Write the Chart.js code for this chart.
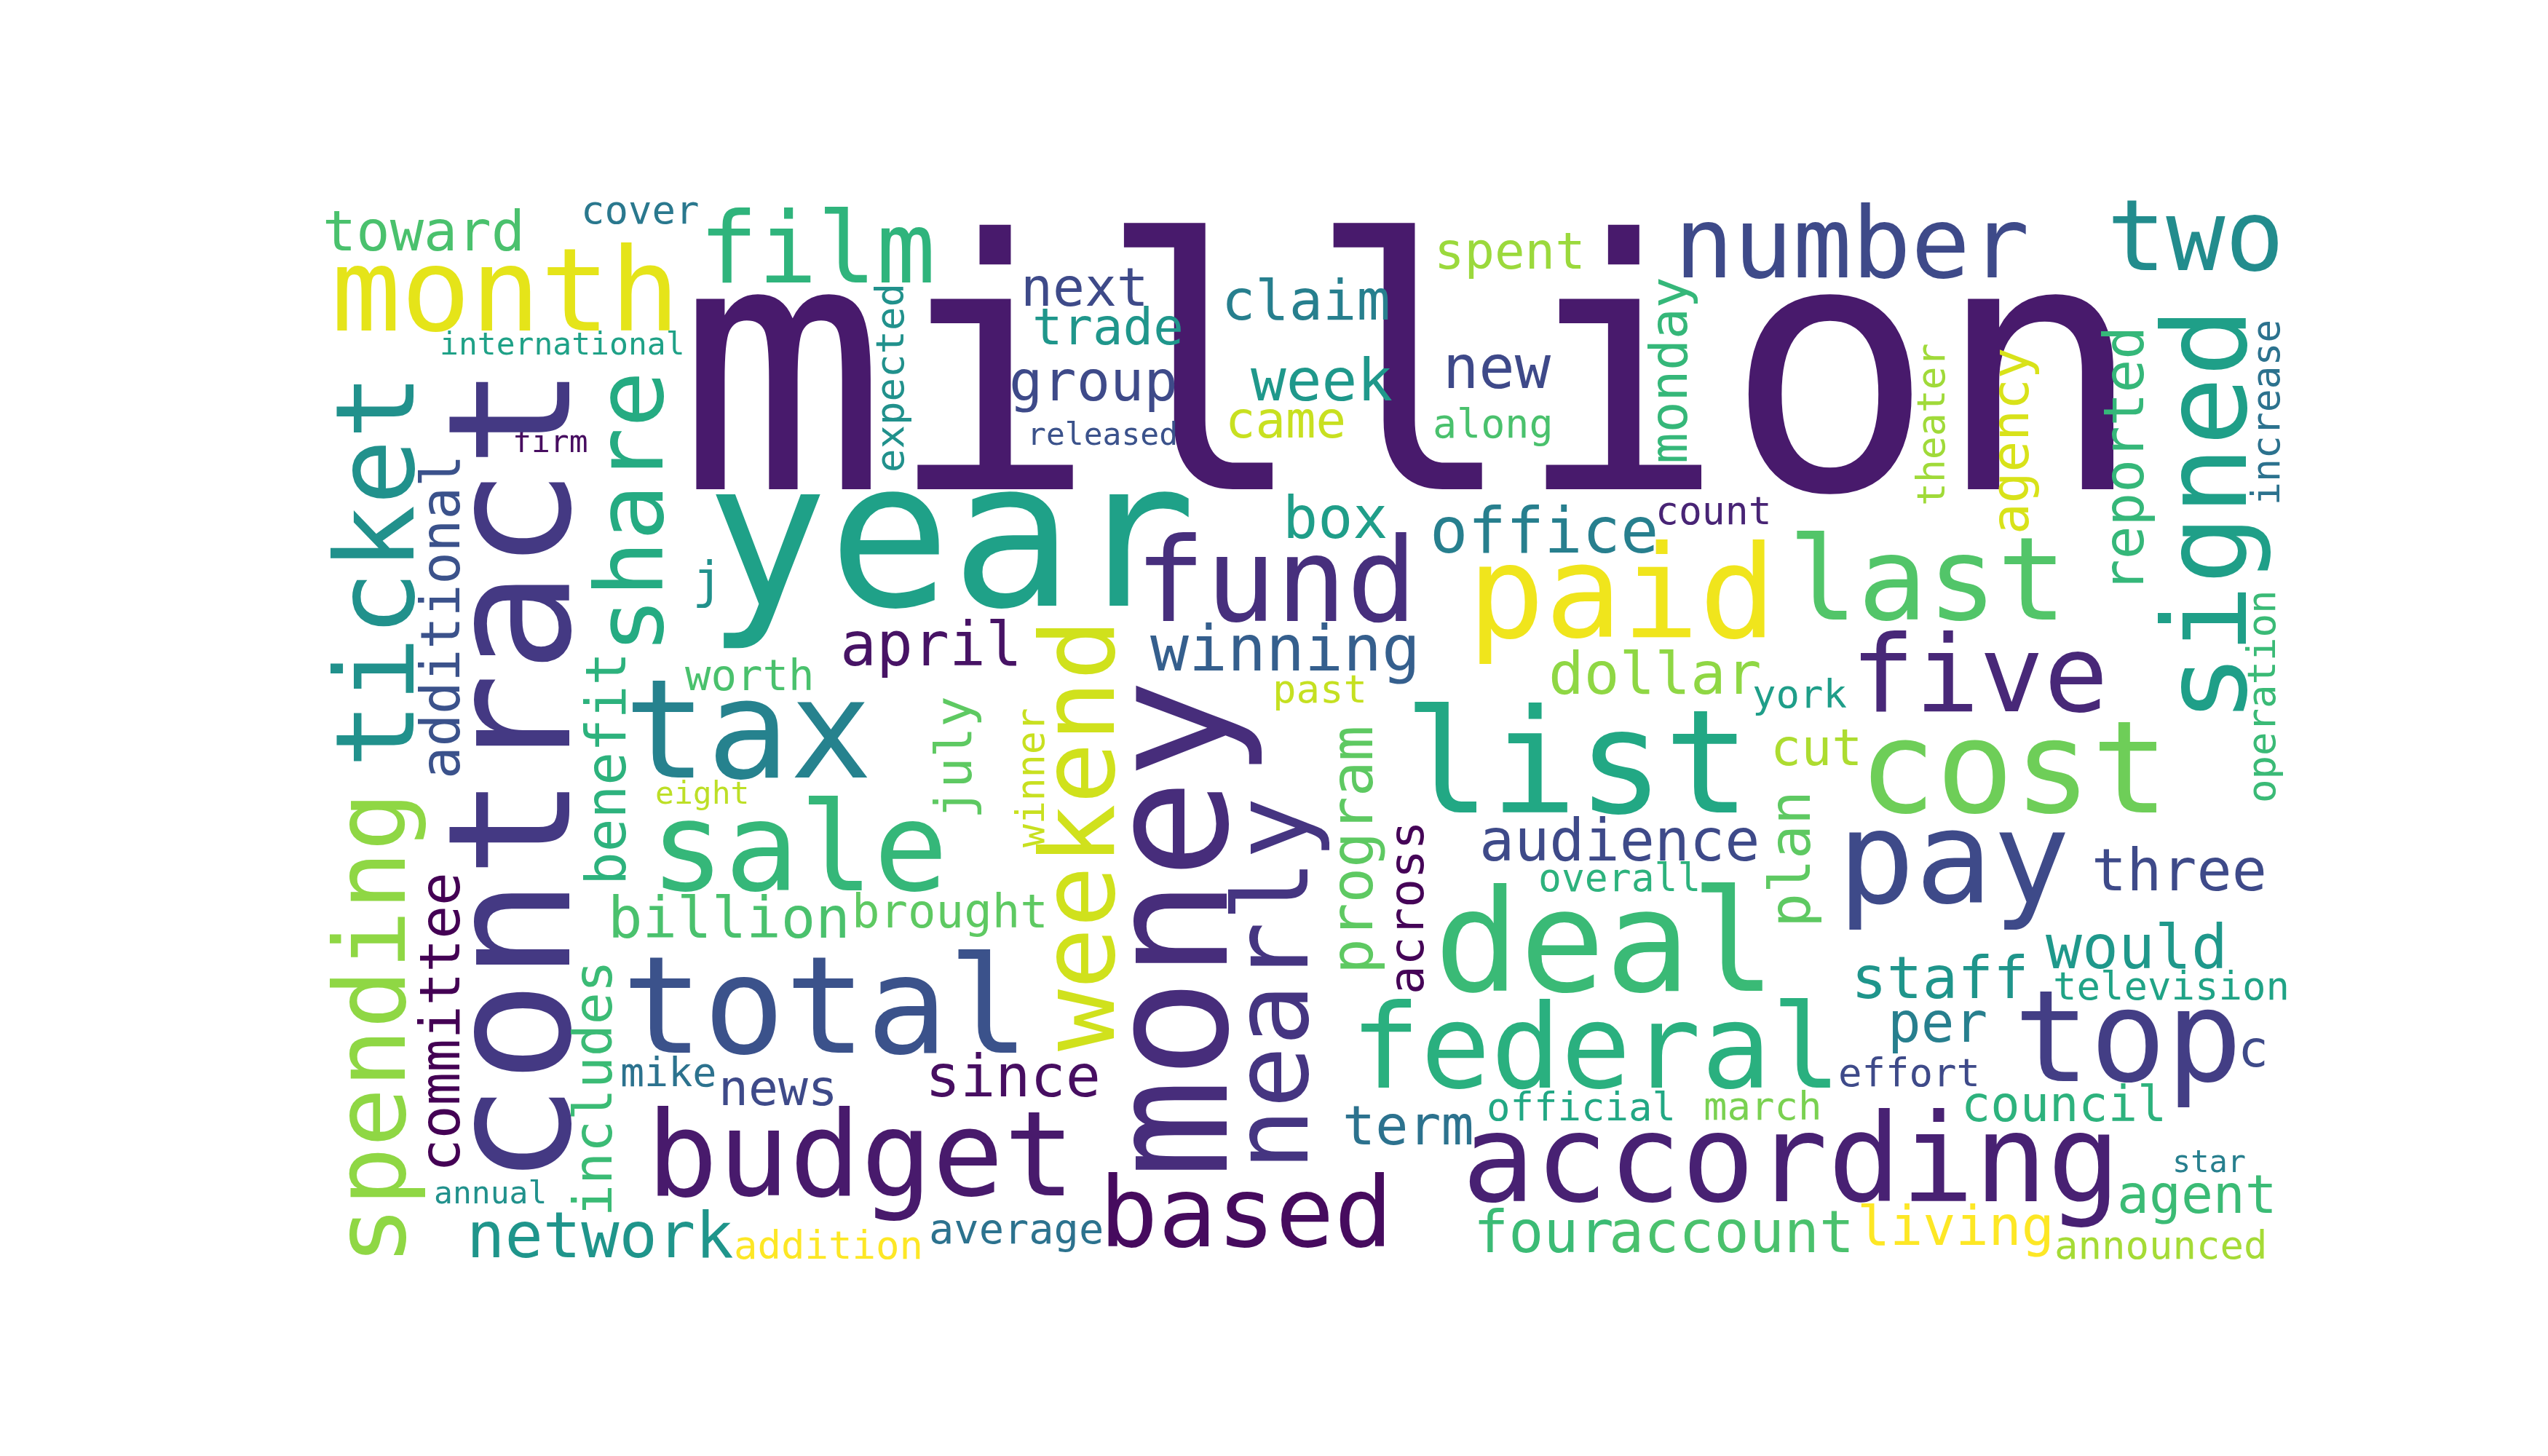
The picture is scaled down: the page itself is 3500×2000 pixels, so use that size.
<!DOCTYPE html>
<html>
<head>
<meta charset="utf-8">
<script src="https://cdn.jsdelivr.net/npm/chart.js@4.4.1/dist/chart.umd.min.js"></script>
<style>
html,body{margin:0;padding:0;background:#ffffff;}
#wrap{width:3500px;height:2000px;position:relative;}
</style>
</head>
<body>
<div id="wrap"><canvas id="cloud"></canvas></div>
<script>
// ---- word cloud data ----
const words = ["million","toward","cover","month","film","international","firm","j","worth","april",
"year","next","trade","group","released","claim","week","came","spent","new",
"along","box","office","fund","winning","past","paid","dollar","number","two",
"count","last","five","york","eight","sale","tax","billion","brought","total",
"mike","news","since","budget","annual","network","addition","average","list","audience",
"overall","deal","federal","term","official","according","based","four","account","cost",
"cut","pay","three","would","staff","television","per","top","c","effort",
"march","council","star","agent","living","announced",
"expected","ticket","contract","additional","share","monday","theater","agency","reported","signed",
"increase","operation","spending","committee","includes","benefit","weekend","winner","july","money",
"nearly","program","across","plan"];

// relative weight of each word (rendered as font size in y-axis units)
const weights = [478,77,54,159,135,43,43,70,59,83,
280,73,69,77,43,77,81,69,69,82,
55,80,87,161,88,54,176,81,135,135,
53,159,147,54,43,170,189,79,64,186,
55,68,80,163,43,87,54,57,198,80,
53,195,160,75,54,167,134,80,80,177,
70,177,80,83,81,54,76,174,70,54,
54,67,42,73,75,54,
54,150,234,74,129,71,53,71,76,158,
53,54,135,76,73,76,141,53,70,228,
142,81,66,78];

// layout coordinates (axis units): pen start and baseline
const layoutX = [931,443,798,455,960,604,704,951,941,1154,
969,1402,1418,1386,1411,1678,1718,1683,1970,1982,
1968,1762,1964,1559,1580,1748,2016,2127,2300,2894,
2274,2456,2542,2407,900,893,857,835,1170,854,
852,987,1271,888,596,641,1008,1276,1928,2032,
2113,1970,1855,1844,2042,2008,1510,2024,2210,2553,
2432,2524,2873,2810,2543,2820,2593,2766,3074,2525,
2340,2694,2984,2908,2551,2822,
1241,568,782,631,910,2317,2671,2786,2944,3085,
3131,3125,556,631,840,859,1530,1434,1334,1685,
1796,1885,1955,2486];
const layoutY = [672,344,307,454,388,487,621,821,948,914,
832,420,473,550,611,439,550,601,369,533,
601,739,759,853,921,965,875,953,381,371,
720,851,977,972,1104,1223,1068,1288,1274,1446,
1492,1518,1506,1642,1653,1727,1729,1708,1116,1182,
1224,1361,1494,1572,1539,1650,1712,1720,1720,1116,
1051,1240,1223,1330,1371,1373,1431,1485,1465,1492,
1538,1540,1610,1666,1710,1729,
649,1055,1629,1070,898,637,695,734,814,993,
694,1103,1738,1610,1671,1216,1444,1164,1125,1619,
1608,1338,1366,1274];
// 1 = rotated (reads bottom to top)
const vertical = [0,0,0,0,0,0,0,0,0,0,
0,0,0,0,0,0,0,0,0,0,
0,0,0,0,0,0,0,0,0,0,
0,0,0,0,0,0,0,0,0,0,
0,0,0,0,0,0,0,0,0,0,
0,0,0,0,0,0,0,0,0,0,
0,0,0,0,0,0,0,0,0,0,
0,0,0,0,0,0,
1,1,1,1,1,1,1,1,1,1,
1,1,1,1,1,1,1,1,1,1,
1,1,1,1];

// viridis-like colours per word
const palette = ["#481a6c","#4ac16d","#2a788e","#e5e419","#2fb47c","#1fa187","#470d60","#21918c","#4ac16d","#471365",
"#1fa188","#3e4a89","#1f968b","#3e4a89","#3b528b","#277f8e","#1f988b","#c8e020","#9bd93c","#3e4989",
"#4ac16d","#1f9e89","#277f8e","#472f7d","#355f8d","#c5e021","#f0e51c","#8fd744","#3e4a89","#228c8d",
"#482475","#52c569","#482878","#1f9e89","#bddf26","#35b779","#26828e","#4ac16d","#5ec962","#3b528b",
"#2c728e","#3e4a89","#470e61","#481a6c","#21918c","#1f958b","#fde725","#2c728e","#22a884","#3e4a89",
"#2db27d","#3aba76","#2ab07f","#2c728e","#22a884","#482173","#460b5e","#3bbb75","#4ac16d","#6ece58",
"#addc30","#3e4a89","#3e4a89","#1f988b","#1f958b","#20a386","#277f8e","#433e85","#3e4a89","#3e4a89",
"#7ad151","#2db27d","#277f8e","#3bbb75","#fde725","#a5db36",
"#21918c","#21918c","#443983","#3b528b","#25ab82","#35b779","#a0da39","#d8e219","#35b779","#1f9f88",
"#2c728e","#3aba76","#8fd744","#440154","#3bbb75","#2db27d","#d0e11c","#c8e020","#5ec962","#472d7b",
"#453581","#5ec962","#450457","#5ec962"];

const fontFamily = "'DejaVu Sans Mono', 'Liberation Mono', monospace";

const wordPlugin = {
  id: 'wordPlugin',
  afterDatasetsDraw(chart) {
    const ctx = chart.ctx;
    const xs = chart.scales.x, ys = chart.scales.y;
    const meta = chart.getDatasetMeta(0);
    ctx.save();
    ctx.textAlign = 'left';
    ctx.textBaseline = 'alphabetic';
    meta.data.forEach((pt, i) => {
      const size = Math.abs(ys.getPixelForValue(weights[i]) - ys.getPixelForValue(0));
      ctx.font = size.toFixed(2) + 'px ' + fontFamily;
      ctx.fillStyle = palette[i];
      ctx.save();
      ctx.translate(pt.x, pt.y);
      if (vertical[i]) ctx.rotate(-Math.PI / 2);
      ctx.fillText(words[i], 0, 0);
      ctx.restore();
    });
    ctx.restore();
  }
};

new Chart(document.getElementById('cloud'), {
  type: 'scatter',
  data: {
    labels: words,
    datasets: [{
      data: words.map((w, i) => ({ x: layoutX[i], y: layoutY[i] })),
      pointRadius: 0,
      pointHoverRadius: 0
    }]
  },
  options: {
    responsive: true,
    maintainAspectRatio: false,
    devicePixelRatio: 1,
    animation: false,
    layout: { padding: 0 },
    plugins: { legend: { display: false }, tooltip: { enabled: false } },
    scales: {
      x: { type: 'linear', min: 0, max: 3500, display: false },
      y: { type: 'linear', min: 0, max: 2000, reverse: true, display: false }
    }
  },
  plugins: [wordPlugin]
});
</script>
</body>
</html>
